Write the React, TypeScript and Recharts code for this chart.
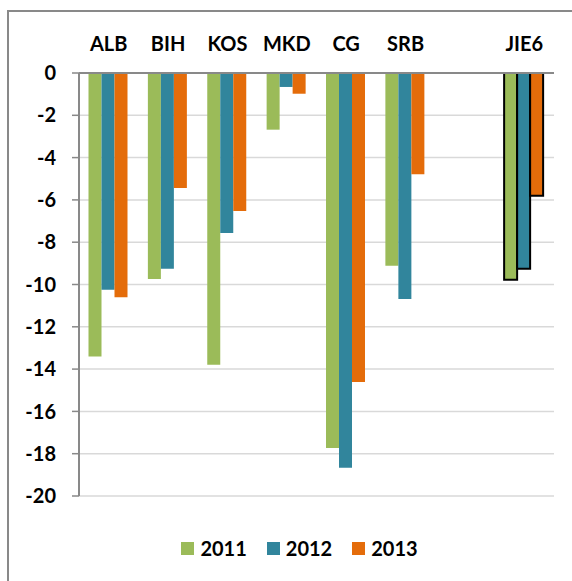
import React from "react";
import { BarChart, Bar, XAxis, YAxis, CartesianGrid, Legend, Cell } from "recharts";

const categories = ["ALB", "BIH", "KOS", "MKD", "CG", "SRB", "", "JIE6"];
const v2011 = [-13.4, -9.74, -13.8, -2.68, -17.73, -9.11, null, -9.77];
const v2012 = [-10.25, -9.25, -7.57, -0.66, -18.66, -10.69, null, -9.25];
const v2013 = [-10.6, -5.44, -6.53, -0.98, -14.61, -4.79, null, -5.8];
const yTicks = [0, -2, -4, -6, -8, -10, -12, -14, -16, -18, -20];
const seriesNames = ["2011", "2012", "2013"];
const seriesColors = ["#9BBB59", "#31859C", "#E46C0A"];
const highlighted = "JIE6";

const data = categories.map((c, i) => ({
  name: c,
  s2011: v2011[i],
  s2012: v2012[i],
  s2013: v2013[i],
}));
const keys = ["s2011", "s2012", "s2013"];

const FONT = "Lato, 'Open Sans', sans-serif";

const LegendContent = () => (
  <div
    style={{
      display: "flex",
      justifyContent: "center",
      alignItems: "center",
      paddingLeft: 27,
      fontFamily: FONT,
      fontWeight: 700,
      fontSize: 20,
      color: "#000",
    }}
  >
    {seriesNames.map((n, i) => (
      <div key={n} style={{ display: "flex", alignItems: "center", marginRight: i < 2 ? 20 : 0 }}>
        <span style={{ width: 13, height: 13, background: seriesColors[i], display: "inline-block", marginRight: 6 }} />
        <span style={{ lineHeight: "20px" }}>{n}</span>
      </div>
    ))}
  </div>
);

export default function App() {
  return (
    <div style={{ position: "absolute", left: 0, top: 0, width: 572, height: 581, background: "#fff", overflow: "hidden" }}>
      <div
        style={{
          position: "absolute",
          left: 7,
          top: 10,
          width: 600,
          height: 600,
          borderLeft: "2px solid #898989",
          borderTop: "2px solid #898989",
        }}
      />
      <div style={{ position: "absolute", left: 0, top: 0 }}>
        <BarChart
          width={572}
          height={581}
          data={data}
          margin={{ top: 0, right: 18, left: 0, bottom: 85 }}
          barCategoryGap="16%"
          barGap={0}
        >
          <CartesianGrid vertical={false} stroke="#d9d9d9" strokeWidth={1.5} />
          <XAxis
            dataKey="name"
            orientation="top"
            height={73}
            axisLine={{ stroke: "#898989", strokeWidth: 2 }}
            tickLine={false}
            tickSize={0}
            tickMargin={22}
            interval={0}
            tick={{ fill: "#000", fontFamily: FONT, fontWeight: 700, fontSize: 20 }}
          />
          <YAxis
            domain={[-20, 0]}
            ticks={yTicks}
            width={79}
            interval={0}
            axisLine={{ stroke: "#898989", strokeWidth: 2 }}
            tickLine={{ stroke: "#898989", strokeWidth: 1.5 }}
            tickSize={7}
            tickMargin={16}
            tick={{ fill: "#000", fontFamily: FONT, fontWeight: 700, fontSize: 20 }}
          />
          <Legend
            content={<LegendContent />}
            wrapperStyle={{ top: 538, left: 0, width: 572, height: 0, overflow: "visible" }}
          />
          {keys.map((k, si) => (
            <Bar key={k} dataKey={k} name={seriesNames[si]} fill={seriesColors[si]} isAnimationActive={false}>
              {data.map((d) => (
                <Cell
                  key={d.name + k}
                  fill={seriesColors[si]}
                  stroke={d.name === highlighted ? "#000" : "none"}
                  strokeWidth={d.name === highlighted ? 2 : 0}
                />
              ))}
            </Bar>
          ))}
        </BarChart>
      </div>
    </div>
  );
}
